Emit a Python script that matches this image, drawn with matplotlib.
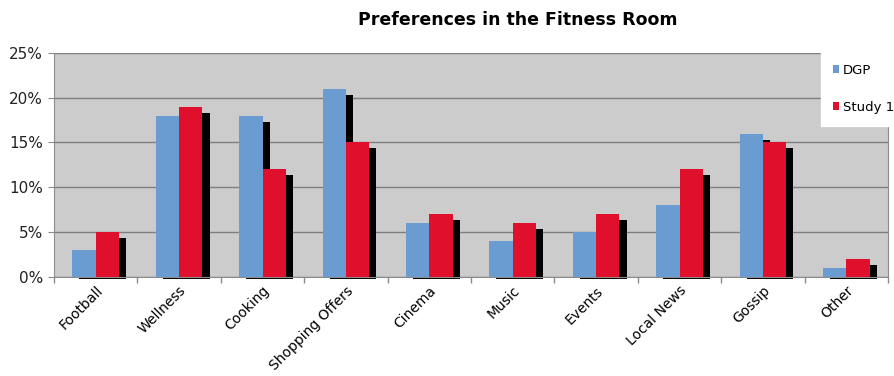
import numpy as np
import matplotlib
matplotlib.use("Agg")
import matplotlib.pyplot as plt
from matplotlib.ticker import FuncFormatter, FixedLocator

# data
categories = ["Football", "Wellness", "Cooking", "Shopping Offers", "Cinema",
              "Music", "Events", "Local News", "Gossip", "Other"]
dgp = [3, 18, 18, 21, 6, 4, 5, 8, 16, 1]
study1 = [5, 19, 12, 15, 7, 6, 7, 12, 15, 2]

blue = "#6a9bd1"
red = "#e0102c"

fig = plt.figure(figsize=(8.95, 3.76), dpi=100)
ax = fig.add_axes([54 / 895, 1 - 276.7 / 376, (888 - 54) / 895, (276.7 - 53) / 376])
ax.set_facecolor("#cccccc")

x = np.arange(len(categories))
w = 0.28
dx = 0.085   # shadow shift to the right
dtop = 0.67  # shadow top shift down (in %)
dbot = 0.3   # shadow bottom shift below the axis

# shadows first
for xs, vals in [(x - w / 2, dgp), (x + w / 2, study1)]:
    vals = np.array(vals, dtype=float)
    ax.bar(xs + dx, vals - dtop + dbot, bottom=-dbot, width=w, color="black",
           zorder=2, clip_on=False)

ax.bar(x - w / 2, dgp, width=w, color=blue, label="DGP", zorder=3)
ax.bar(x + w / 2, study1, width=w, color=red, label="Study 1", zorder=4)

ax.set_xlim(-0.5, len(categories) - 0.5)
ax.set_ylim(0, 25)
ax.set_yticks([0, 5, 10, 15, 20, 25])
ax.yaxis.set_major_formatter(FuncFormatter(lambda v, p: "%d%%" % v))
ax.yaxis.grid(True, color="#7f7f7f", linewidth=1.0, zorder=1)
ax.set_axisbelow(True)

ax.set_xticks(x)
ax.set_xticklabels(categories, rotation=45, ha="right", va="top",
                   rotation_mode="anchor", fontsize=10)
ax.tick_params(axis="x", which="major", length=0, pad=5)
ax.xaxis.set_minor_locator(FixedLocator(np.arange(-0.5, len(categories), 1.0)))
ax.tick_params(axis="x", which="minor", length=4, color="#8c8c8c", width=1)
ax.tick_params(axis="y", length=4, color="#8c8c8c", labelsize=11, pad=4,
               labelcolor="#222222")

for s in ax.spines.values():
    s.set_color("#8c8c8c")
ax.spines["top"].set_visible(False)

fig.text(518 / 895, 1 - 20 / 376, "Preferences in the Fitness Room",
         ha="center", va="center", fontsize=12.5, fontweight="bold")

leg = fig.legend(loc="upper left", bbox_to_anchor=(821 / 895, 1 - 52 / 376),
                 frameon=True, fancybox=False, handlelength=0.5, handleheight=0.5,
                 handletextpad=0.25, labelspacing=1.8, borderpad=0.9,
                 fontsize=9.5, borderaxespad=0)
leg.get_frame().set_facecolor("white")
leg.get_frame().set_edgecolor("white")
leg.get_frame().set_alpha(1)

fig.savefig("out.png", dpi=100)
